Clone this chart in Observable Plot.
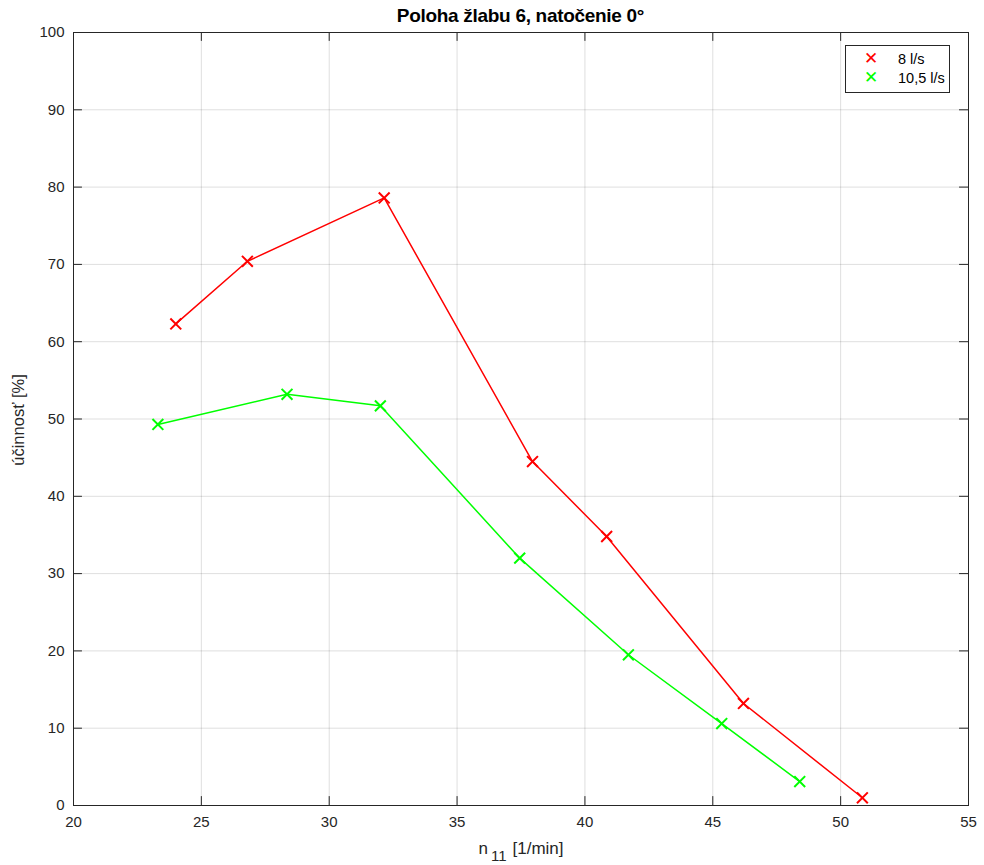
<!DOCTYPE html>
<html>
<head>
<meta charset="utf-8">
<script src="https://cdn.jsdelivr.net/npm/d3@7"></script>
<script src="https://cdn.jsdelivr.net/npm/@observablehq/plot@0.6"></script>
<style>
  html, body { margin: 0; padding: 0; background: #fff; }
  #wrap { position: relative; width: 984px; height: 865px; font-family: "Liberation Sans", Arial, Helvetica, sans-serif; }
  #title { position: absolute; top: 5px; left: 73px; width: 895px; text-align: center; font-weight: bold; font-size: 19px; color: #000; letter-spacing: -0.3px; }
  #ylab { position: absolute; left: 18px; top: 420px; transform: translate(-50%, -50%) rotate(-90deg); font-size: 16.5px; color: #262626; white-space: nowrap; }
  #xlab { position: absolute; top: 839px; left: 521px; transform: translateX(-50%); font-size: 17px; color: #262626; white-space: nowrap; }
  #xlab sub { font-size: 15px; vertical-align: -7px; margin-left: 3px; margin-right: 6px; }
  #legend { position: absolute; left: 845px; top: 45px; width: 105px; height: 48px; border: 1px solid #262626; background: #fff; font-size: 14.5px; color: #000; box-sizing: border-box; }
  #legend .row { position: absolute; left: 0; height: 18px; line-height: 18px; }
  #legend .mk { position: absolute; left: 18px; width: 14px; text-align: center; font-size: 17px; }
  #legend .tx { position: absolute; left: 52px; white-space: nowrap; }
</style>
</head>
<body>
<div id="wrap">
  <div id="chart"></div>
  <div id="title">Poloha žlabu 6, natočenie 0°</div>
  <div id="ylab">účinnosť [%]</div>
  <div id="xlab">n<sub>11</sub>[1/min]</div>
  <div id="legend"></div>
</div>
<script>
const xTicks = [20, 25, 30, 35, 40, 45, 50, 55];
const yTicks = [0, 10, 20, 30, 40, 50, 60, 70, 80, 90, 100];

const seriesNames = ["8 l/s", "10,5 l/s"];
const seriesColors = ["#ff0000", "#00ff00"];

const n11_8 = [24.0, 26.8, 32.15, 37.95, 40.85, 46.2, 50.85];
const eff_8 = [62.3, 70.4, 78.6, 44.5, 34.8, 13.2, 1.0];

const n11_105 = [23.3, 28.35, 32.0, 37.45, 41.7, 45.35, 48.4];
const eff_105 = [49.3, 53.2, 51.7, 32.0, 19.5, 10.6, 3.1];

const data = [
  ...n11_8.map((x, i) => ({x, y: eff_8[i], s: seriesNames[0]})),
  ...n11_105.map((x, i) => ({x, y: eff_105[i], s: seriesNames[1]}))
];

const axisColor = "#262626";

const chart = Plot.plot({
  width: 984,
  height: 865,
  marginTop: 32,
  marginRight: 16,
  marginBottom: 60,
  marginLeft: 73,
  style: {fontFamily: "'Liberation Sans', Arial, Helvetica, sans-serif", background: "#fff"},
  x: {domain: [20, 55]},
  y: {domain: [0, 100]},
  color: {domain: seriesNames, range: seriesColors},
  marks: [
    Plot.gridX(xTicks, {stroke: "#000", strokeOpacity: 0.13, strokeWidth: 1}),
    Plot.gridY(yTicks, {stroke: "#000", strokeOpacity: 0.13, strokeWidth: 1}),
    Plot.ruleX(xTicks, {x: d => d, y1: 0, y2: 1.15, stroke: axisColor}),
    Plot.ruleX(xTicks, {x: d => d, y1: 100, y2: 98.85, stroke: axisColor}),
    Plot.ruleY(yTicks, {y: d => d, x1: 20, x2: 20.35, stroke: axisColor}),
    Plot.ruleY(yTicks, {y: d => d, x1: 55, x2: 54.65, stroke: axisColor}),
    Plot.frame({stroke: axisColor, strokeWidth: 1}),
    Plot.axisX(xTicks, {tickSize: 0, tickPadding: 11, fontSize: 15, fill: axisColor, label: null, tickFormat: d => String(d)}),
    Plot.axisY(yTicks, {tickSize: 0, tickPadding: 9, fontSize: 15, fill: axisColor, label: null, tickFormat: d => String(d)}),
    Plot.line(data, {x: "x", y: "y", z: "s", stroke: "s", strokeWidth: 1.5}),
    Plot.dot(data, {x: "x", y: "y", stroke: "s", symbol: "times", r: 5, strokeWidth: 2})
  ]
});
document.getElementById("chart").appendChild(chart);

const legend = document.getElementById("legend");
seriesNames.forEach((name, i) => {
  const row = document.createElement("div");
  row.className = "row";
  row.style.top = (4 + i * 19) + "px";
  row.innerHTML = `<span class="mk" style="color:${seriesColors[i]}">✕</span><span class="tx">${name}</span>`;
  legend.appendChild(row);
});
</script>
</body>
</html>
